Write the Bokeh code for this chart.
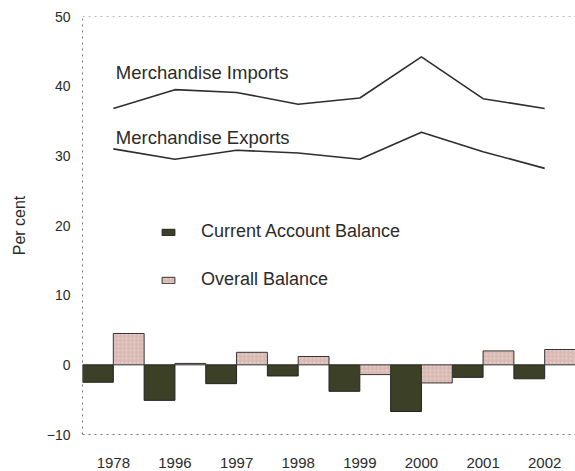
import numpy as np
from bokeh.plotting import figure
from bokeh.models import (ColumnDataSource, Range1d, FixedTicker, Label, Legend,
                          LegendItem, Span)
from bokeh.embed import file_html
from bokeh.resources import INLINE

# ---- data ----
years = ["1978", "1996", "1997", "1998", "1999", "2000", "2001", "2002"]
imports_pct = [36.8, 39.5, 39.1, 37.4, 38.3, 44.2, 38.2, 36.8]
exports_pct = [31.0, 29.5, 30.8, 30.4, 29.5, 33.4, 30.6, 28.2]
current_account = [-2.5, -5.1, -2.7, -1.6, -3.8, -6.7, -1.8, -2.0]
overall_balance = [4.5, 0.2, 1.8, 1.2, -1.4, -2.6, 2.0, 2.2]
y_ticks = [-10, 0, 10, 20, 30, 40, 50]

FONT = "Liberation Sans"
TXT = "#2b2b2b"
CA_COLOR = "#3c4027"
OB_COLOR = "#d9bab3"

idx = np.arange(len(years))
centers = idx + 0.5

src = ColumnDataSource(dict(
    ca_x=idx + 0.25, ob_x=idx + 0.75, center=centers,
    ca=current_account, ob=overall_balance,
    imp=imports_pct, exp=exports_pct,
))

p = figure(width=575, height=470, output_backend="svg", toolbar_location=None,
           x_range=Range1d(0, len(years)), y_range=Range1d(-10, 50),
           min_border_left=82, min_border_right=0, min_border_top=16,
           min_border_bottom=35)

p.background_fill_color = "white"
p.border_fill_color = "white"
p.outline_line_color = None
p.xgrid.grid_line_color = None
p.ygrid.grid_line_color = None

ca_r = p.vbar(x="ca_x", top="ca", bottom=0, width=0.5, source=src,
              fill_color=CA_COLOR, line_color="#222222", line_width=1)
ob_r = p.vbar(x="ob_x", top="ob", bottom=0, width=0.5, source=src,
              fill_color=OB_COLOR, line_color="#333333", line_width=1,
              hatch_pattern="dot", hatch_color="white", hatch_alpha=0.35,
              hatch_scale=4)

p.line(x="center", y="imp", source=src, line_color="#2e2e2e", line_width=1.6)
p.line(x="center", y="exp", source=src, line_color="#2e2e2e", line_width=1.6)

# top dotted frame line
p.add_layout(Span(location=50, dimension="width", line_color="#777777",
                  line_dash="dotted", line_width=1))

# line labels
p.add_layout(Label(x=0.54, y=42.0, text="Merchandise Imports",
                   text_font=FONT, text_font_size="18.5px", text_color=TXT,
                   text_baseline="middle"))
p.add_layout(Label(x=0.54, y=32.7, text="Merchandise Exports",
                   text_font=FONT, text_font_size="18.5px", text_color=TXT,
                   text_baseline="middle"))

# axes
p.xaxis.ticker = FixedTicker(ticks=list(centers))
p.xaxis.major_label_overrides = {float(c): y for c, y in zip(centers, years)}
p.xaxis.major_tick_line_color = None
p.xaxis.minor_tick_line_color = None
p.xaxis.axis_line_color = "#777777"
p.xaxis.axis_line_dash = "dotted"
p.xaxis.major_label_text_font = FONT
p.xaxis.major_label_text_font_size = "15px"
p.xaxis.major_label_text_color = TXT
p.xaxis.major_label_standoff = 17

p.yaxis.ticker = FixedTicker(ticks=y_ticks)
p.yaxis.major_tick_line_color = None
p.yaxis.minor_tick_line_color = None
p.yaxis.axis_line_color = "#777777"
p.yaxis.axis_line_dash = "dotted"
p.yaxis.major_label_text_font = FONT
p.yaxis.major_label_text_font_size = "14px"
p.yaxis.major_label_text_color = TXT
p.yaxis.major_label_standoff = 6
p.yaxis.axis_label = "Per cent"
p.yaxis.axis_label_text_font = FONT
p.yaxis.axis_label_text_font_size = "16px"
p.yaxis.axis_label_text_font_style = "normal"
p.yaxis.axis_label_text_color = TXT
p.yaxis.axis_label_standoff = 16

legend = Legend(items=[LegendItem(label="Current Account Balance", renderers=[ca_r]),
                       LegendItem(label="Overall Balance", renderers=[ob_r])],
                location=(78, 144), orientation="vertical",
                glyph_width=16, glyph_height=8, label_standoff=25,
                label_height=20, spacing=27, padding=0, margin=0,
                label_text_font=FONT, label_text_font_size="18px",
                label_text_color=TXT, border_line_alpha=0,
                background_fill_alpha=0)
p.add_layout(legend)

open("out.html", "w").write(file_html(p, INLINE))
